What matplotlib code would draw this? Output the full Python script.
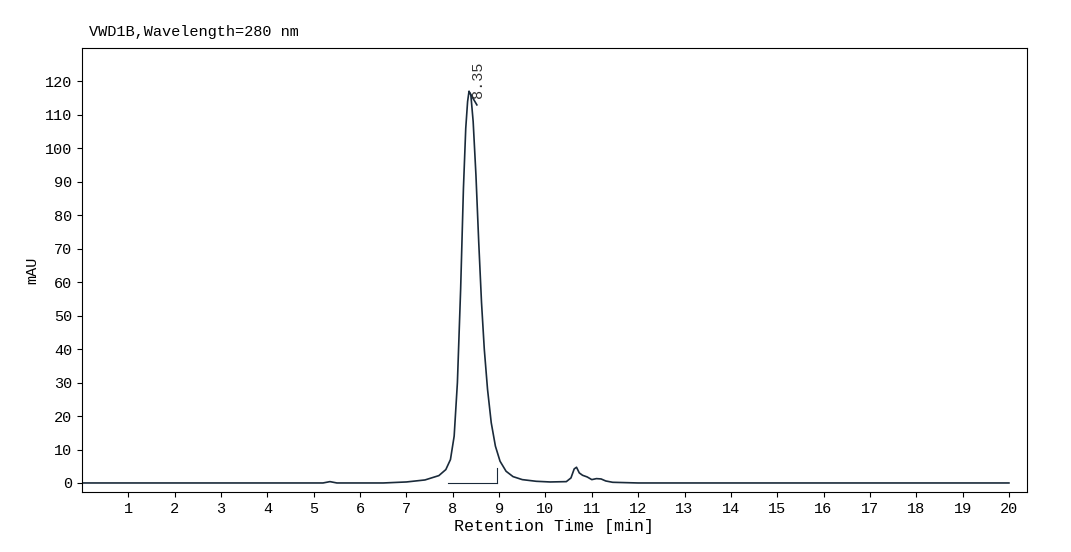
import matplotlib
matplotlib.use("Agg")
import matplotlib.pyplot as plt

times = [0, 5.2, 5.35, 5.5, 6.5, 7.0, 7.4, 7.7, 7.85, 7.95, 8.03, 8.1, 8.17, 8.23, 8.28, 8.32, 8.35, 8.39, 8.44, 8.5, 8.56, 8.62, 8.68, 8.75, 8.83, 8.92, 9.02, 9.15, 9.3, 9.5, 9.8, 10.1, 10.45, 10.55, 10.62, 10.67, 10.73, 10.8, 10.9, 11.0, 11.1, 11.2, 11.3, 11.45, 12.0, 20.0]
mau   = [0, 0, 0.4, 0, 0, 0.3, 0.9, 2.2, 4.0, 7.0, 14, 30, 58, 88, 106, 114, 117, 116, 108, 92, 72, 54, 40, 28, 18, 11, 6.5, 3.5, 1.9, 1.0, 0.5, 0.3, 0.4, 1.5, 4.2, 4.7, 3.0, 2.3, 1.8, 1.0, 1.3, 1.2, 0.6, 0.2, 0, 0]
peak_t, peak_label = 8.35, "8.35"
xticks = list(range(1, 21))
yticks = list(range(0, 121, 10))

fig = plt.figure(figsize=(10.71, 5.52), dpi=100)
ax = fig.add_axes([82/1071, 1-492/552, (1027-82)/1071, (492-48)/552])
fam = ["Liberation Mono", "DejaVu Sans Mono"]
ax.plot(times, mau, color="#1a2a3a", lw=1.2)
ax.plot([7.9, 8.95], [0, 0], color="#1a2a3a", lw=0.8)
ax.plot([8.95, 8.95], [0, 4.5], color="#1a2a3a", lw=0.8)
ax.plot([8.35, 8.52], [117, 113], color="#1a2a3a", lw=1.2)
ax.text(8.55, 115, peak_label, rotation=90, fontsize=11, family=fam, ha="center", va="bottom", color="#333")
ax.set_xlim(0, 20.39)
ax.set_ylim(-2.7, 130)
ax.set_xticks(xticks)
ax.set_yticks(yticks)
for lab in ax.get_xticklabels() + ax.get_yticklabels():
    lab.set_family(fam); lab.set_fontsize(11)
ax.set_xlabel("Retention Time [min]", family=fam, fontsize=12, labelpad=2)
ax.set_ylabel("mAU", family=fam, fontsize=11)
ax.text(0.007, 1.02, "VWD1B,Wavelength=280 nm", transform=ax.transAxes, family=fam, fontsize=11, ha="left", va="bottom")
fig.savefig("out.png", dpi=100)
